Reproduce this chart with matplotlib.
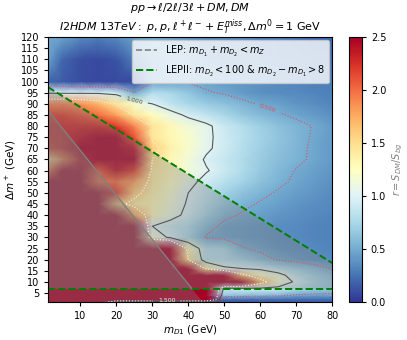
import numpy as np
import matplotlib
matplotlib.use("Agg")
import matplotlib.pyplot as plt

# grid of the ratio r = S_DM / S_bg
m_d1 = [1, 5, 10, 15, 20, 25, 30, 35, 40, 45, 50, 55, 60, 65, 70, 75, 80]
dm_plus = [1, 2, 4, 7, 10, 13, 16, 20, 25, 30, 35, 40, 45, 50, 55, 60, 65,
           70, 75, 80, 85, 90, 95, 100, 110, 120]

r_rows = [
    [3, 3, 3, 3, 0.3, 0.3, 0.3, 0.3, 0.3, 0.3, 0.15, 0.15, 0.15, 0.15, 0.15, 0.15, 0.15],
    [3, 3, 3, 3, 3, 3, 3, 3, 3, 3, 0.2, 0.2, 0.2, 0.2, 0.2, 0.2, 0.2],
    [3, 3, 3, 3, 3, 3, 3, 3, 3, 3, 0.65, 0.6, 0.58, 0.55, 0.47, 0.45, 0.45],
    [3, 3, 3, 3, 3, 3, 3, 3, 3, 3, 0.88, 0.95, 0.95, 0.93, 0.8, 0.7, 0.65],
    [3, 3, 3, 3, 3, 3, 3, 3, 3, 3, 3, 2.6, 1.7, 1.2, 0.95, 0.75, 0.65],
    [3, 3, 3, 3, 3, 3, 3, 3, 3, 3, 2.6, 1.6, 1.25, 1.1, 0.85, 0.7, 0.6],
    [3, 3, 3, 3, 3, 3, 3, 3, 2.5, 1.4, 1.05, 1.0, 0.95, 0.82, 0.7, 0.6, 0.48],
    [3, 3, 3, 3, 3, 3, 3, 3, 1.5, 0.82, 0.8, 0.72, 0.6, 0.48, 0.42, 0.38, 0.35],
    [3, 3, 3, 3, 3, 3, 3, 3, 1.3, 0.8, 0.75, 0.52, 0.45, 0.4, 0.37, 0.35, 0.33],
    [3, 3, 3, 3, 3, 3, 1.2, 0.95, 0.75, 0.48, 0.45, 0.42, 0.4, 0.37, 0.35, 0.33, 0.32],
    [3, 3, 3, 3, 3, 3, 1.0, 0.88, 0.78, 0.58, 0.45, 0.42, 0.4, 0.37, 0.35, 0.33, 0.32],
    [3, 3, 3, 3, 2.5, 1.8, 1.3, 1.1, 0.93, 0.72, 0.55, 0.48, 0.44, 0.4, 0.38, 0.35, 0.33],
    [3, 3, 3, 3, 1.6, 1.4, 1.3, 1.15, 0.97, 0.8, 0.65, 0.55, 0.48, 0.44, 0.4, 0.37, 0.35],
    [3, 3, 3, 3, 2.2, 1.6, 1.35, 1.2, 1.0, 0.85, 0.72, 0.62, 0.55, 0.48, 0.43, 0.4, 0.36],
    [3, 3, 2.8, 2.0, 2.0, 1.8, 1.4, 1.25, 1.08, 0.92, 0.82, 0.72, 0.62, 0.54, 0.47, 0.42, 0.38],
    [2.0, 2.6, 2.6, 2.1, 2.4, 2.2, 1.45, 1.3, 1.15, 1.02, 0.9, 0.78, 0.66, 0.57, 0.49, 0.44, 0.4],
    [1.45, 1.9, 2.4, 2.8, 3, 2.6, 1.5, 1.3, 1.15, 0.97, 0.88, 0.78, 0.68, 0.6, 0.54, 0.47, 0.42],
    [2.2, 2.3, 2.5, 2.8, 2.8, 2.4, 1.6, 1.35, 1.2, 1.04, 0.92, 0.8, 0.7, 0.62, 0.55, 0.47, 0.42],
    [2.3, 2.3, 2.4, 2.6, 2.5, 2.1, 1.45, 1.3, 1.2, 1.05, 0.92, 0.82, 0.72, 0.64, 0.56, 0.48, 0.42],
    [2.3, 2.3, 2.3, 2.3, 2.2, 1.9, 1.45, 1.3, 1.15, 1.05, 0.9, 0.8, 0.7, 0.62, 0.55, 0.49, 0.42],
    [2.2, 2.2, 2.1, 2.0, 1.8, 1.45, 1.25, 1.1, 0.95, 0.85, 0.75, 0.65, 0.58, 0.52, 0.47, 0.42, 0.38],
    [1.9, 1.9, 1.85, 1.7, 1.45, 1.2, 1.0, 0.85, 0.75, 0.68, 0.62, 0.55, 0.48, 0.45, 0.4, 0.37, 0.33],
    [0.95, 0.95, 0.95, 0.95, 0.9, 0.5, 0.8, 0.75, 0.65, 0.52, 0.48, 0.42, 0.38, 0.36, 0.35, 0.33, 0.3],
    [0.2, 0.15, 0.1, 0.08, 0.08, 0.08, 0.45, 0.45, 0.48, 0.45, 0.42, 0.4, 0.38, 0.35, 0.33, 0.3, 0.3],
    [0.45, 0.2, 0.1, 0.08, 0.12, 0.3, 0.45, 0.5, 0.45, 0.4, 0.35, 0.35, 0.35, 0.3, 0.3, 0.25, 0.25],
    [0.5, 0.45, 0.35, 0.3, 0.35, 0.45, 0.5, 0.45, 0.4, 0.35, 0.35, 0.35, 0.3, 0.3, 0.25, 0.2, 0.2],
]

contour_levels = [0.5, 1.0, 1.5]

# exclusion limits (as drawn)
lep_sum = 89.0      # 2*m_D1 + dm+ < lep_sum
lepii_sum = 98.5    # m_D1 + dm+ < lepii_sum
lepii_gap = 7.0     # dm+ > lepii_gap

X, Y = np.meshgrid(m_d1, dm_plus)
Z = np.array(r_rows)

fig = plt.figure(figsize=(4.07, 3.40), dpi=100)
ax = fig.add_axes([0.118, 0.112, 0.698, 0.779])
cax = fig.add_axes([0.857, 0.112, 0.032, 0.779])

mesh = ax.pcolormesh(X, Y, Z, shading="gouraud", cmap="RdYlBu_r", vmin=0, vmax=2.5)

cs = ax.contour(X, Y, Z, levels=contour_levels,
                colors=["#e0505a", "#555555", "#f4f0e0"],
                linestyles=[":", "-", ":"], linewidths=[0.8, 0.8, 0.8])
ax.clabel(cs, fmt="%.3f", fontsize=4.5, inline=True,
          manual=[(62, 88), (25, 91.5), (34, 1.8)])

# LEP region
xx = np.linspace(1, 80, 400)
lep_top = lep_sum - 2 * xx
ax.fill_between(xx, 1, lep_top, where=lep_top > 1, color="gray", alpha=0.35, lw=0)
ax.plot(xx[lep_top > lepii_gap], lep_top[lep_top > lepii_gap], color="gray", lw=1.0)

# LEPII region
lepii_top = lepii_sum - xx
ax.fill_between(xx, lepii_gap, lepii_top, color="gray", alpha=0.35, lw=0)
ax.plot(xx, lepii_top, color="green", ls="--", lw=1.4)
ax.axhline(lepii_gap, color="green", ls="--", lw=1.4)

h1, = ax.plot([], [], color="gray", ls="--", lw=1.2)
h2, = ax.plot([], [], color="green", ls="--", lw=1.4)
ax.legend([h1, h2],
          [r"LEP: $m_{D_1} + m_{D_2} < m_Z$",
           r"LEPII: $m_{D_2} < 100$ & $m_{D_2} - m_{D_1} > 8$"],
          loc="upper right", fontsize=7, framealpha=0.8, borderaxespad=0.3,
          handlelength=2.2)

ax.set_xlim(1, 80)
ax.set_ylim(1, 120)
ax.set_xticks(range(10, 81, 10))
ax.set_yticks(range(5, 121, 5))
ax.tick_params(labelsize=7, length=3)
ax.set_xlabel(r"$m_{D1}$ (GeV)", fontsize=7.5, labelpad=2)
ax.set_ylabel(r"$\Delta m^+$ (GeV)", fontsize=7.5, labelpad=2)
ax.set_title(r"$pp \rightarrow \ell/2\ell/3\ell + DM, DM$" "\n"
             r"$I2HDM\ 13TeV:\ p,p,\ell^+\ell^- + E_T^{miss}, \Delta m^0 = 1$ GeV",
             fontsize=8, pad=3)

cb = fig.colorbar(mesh, cax=cax)
cb.set_ticks([0.0, 0.5, 1.0, 1.5, 2.0, 2.5])
cb.ax.tick_params(labelsize=7, length=3)
cb.set_label(r"$r = S_{DM}/S_{bg}$", fontsize=7, color="gray", labelpad=3)

fig.savefig("out.png", dpi=100)
